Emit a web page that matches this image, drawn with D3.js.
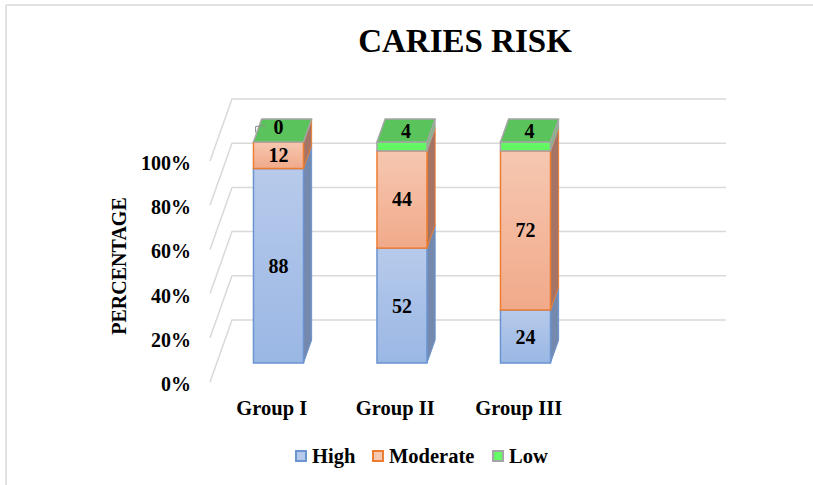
<!DOCTYPE html>
<html>
<head>
<meta charset="utf-8">
<script src="https://cdn.jsdelivr.net/npm/d3@7"></script>
<style>
  html, body { margin: 0; padding: 0; background: #fff; }
  svg { display: block; }
  text { font-family: "Liberation Serif", "Times New Roman", serif; font-weight: bold; fill: #000; }
</style>
</head>
<body>
<svg id="chart" width="813" height="485"></svg>
<script>
// ---- data ----
const categories = ["Group I", "Group II", "Group III"];
const seriesNames = ["High", "Moderate", "Low"];
const high = [88, 52, 24];
const moderate = [12, 44, 72];
const low = [0, 4, 4];
const yTicks = [0, 20, 40, 60, 80, 100];
const chartTitle = "CARIES RISK";
const yTitle = "PERCENTAGE";

// ---- styles ----
const seriesStyle = {
  High:     { top: "#b7caeb", bottom: "#9ab7e4", stroke: "#6b94d0", side: "#7489ad", topFace: "#a8bfe6" },
  Moderate: { top: "#f6c7b1", bottom: "#f1aa8a", stroke: "#ed7d31", side: "#a67464", topFace: "#f4b89c" },
  Low:      { top: "#66fa66", bottom: "#60f560", stroke: "#a5a5a5", side: "#86b386", topFace: "#5bc35b" }
};

const svg = d3.select("#chart");
const defs = svg.append("defs");
seriesNames.forEach(s => {
  const g = defs.append("linearGradient").attr("id", "g" + s)
    .attr("x1", 0).attr("y1", 0).attr("x2", 0).attr("y2", 1);
  g.append("stop").attr("offset", "0%").attr("stop-color", seriesStyle[s].top);
  g.append("stop").attr("offset", "100%").attr("stop-color", seriesStyle[s].bottom);
});

// frame
svg.append("line").attr("x1", 6).attr("y1", 5).attr("x2", 6).attr("y2", 485)
  .attr("stroke", "#d9d9d9").attr("stroke-width", 1.5);
svg.append("line").attr("x1", 6).attr("y1", 5).attr("x2", 813).attr("y2", 5)
  .attr("stroke", "#d9d9d9").attr("stroke-width", 1.5);

// ---- 3D geometry (oblique projection) ----
const wallLeft = 210, wallRight = 704;     // front-plane extents
const depthDx = 22, depthDy = 62;          // full depth offset
const z1 = 0.306, z2 = 0.677;              // bar front / back depth fractions

const y = d3.scaleLinear().domain([0, 100]).range([382, 161]);
const x = d3.scaleBand().domain(categories)
  .range([wallLeft, wallLeft + (wallRight - wallLeft) * 0.75])
  .paddingInner(0.595).paddingOuter(0.2975);

const px = (xv, z) => xv + z * depthDx;
const py = (yv, z) => yv - z * depthDy;

// gridlines: back wall + side wall
const grid = svg.append("g");
yTicks.forEach(v => {
  grid.append("path")
    .attr("d", `M${px(wallLeft, 0)},${py(y(v), 0)} L${px(wallLeft, 1)},${py(y(v), 1)} L${px(wallRight, 1)},${py(y(v), 1)}`)
    .attr("fill", "none").attr("stroke", "#d9d9d9").attr("stroke-width", 1.5);
});

// y tick labels
svg.append("g").selectAll("text").data(yTicks).join("text")
  .attr("x", 191).attr("y", d => y(d) + 2).attr("dy", "0.35em")
  .attr("text-anchor", "end").attr("font-size", 20)
  .text(d => d + "%");

// y title
svg.append("text")
  .attr("transform", `translate(126,266) rotate(-90)`)
  .attr("text-anchor", "middle").attr("font-size", 20)
  .text(yTitle);

// title
svg.append("text").attr("x", 465).attr("y", 52)
  .attr("text-anchor", "middle").attr("font-size", 33)
  .text(chartTitle);

// ---- bars ----
const table = categories.map((c, i) => ({ cat: c, High: high[i], Moderate: moderate[i], Low: low[i] }));
const stacked = d3.stack().keys(seriesNames)(table);

const barsG = svg.append("g");
table.forEach((row, i) => {
  const x0 = x(row.cat), x1 = x0 + x.bandwidth();
  const g = barsG.append("g");
  stacked.forEach(layer => {
    const s = layer.key;
    const [v0, v1] = layer[i];
    const st = seriesStyle[s];
    if (v1 - v0 > 0) {
      const yb = y(v0), yt = y(v1);
      g.append("path")
        .attr("d", `M${px(x1, z1)},${py(yt, z1)} L${px(x1, z2)},${py(yt, z2)} L${px(x1, z2)},${py(yb, z2)} L${px(x1, z1)},${py(yb, z1)} Z`)
        .attr("fill", st.side).attr("stroke", st.stroke).attr("stroke-width", 1).attr("stroke-linejoin", "round");
      g.append("rect")
        .attr("x", px(x0, z1)).attr("y", py(yt, z1))
        .attr("width", x1 - x0).attr("height", yb - yt)
        .attr("fill", `url(#g${s})`).attr("stroke", st.stroke).attr("stroke-width", 1.5);
    }
  });
  const topLayer = stacked[stacked.length - 1];
  const yt = y(topLayer[i][1]);
  const ts = seriesStyle[topLayer.key];
  g.append("path")
    .attr("d", `M${px(x0, z1)},${py(yt, z1)} L${px(x0, z2)},${py(yt, z2)} L${px(x1, z2)},${py(yt, z2)} L${px(x1, z1)},${py(yt, z1)} Z`)
    .attr("fill", ts.topFace).attr("stroke", ts.stroke).attr("stroke-width", 1.5).attr("stroke-linejoin", "round");
});

// ---- data labels ----
const labG = svg.append("g");
table.forEach((row, i) => {
  const cx = x(row.cat) + x.bandwidth() / 2;
  stacked.forEach((layer, li) => {
    const [v0, v1] = layer[i];
    const val = row[layer.key];
    const isTop = li === stacked.length - 1;
    let lx, ly;
    if (isTop) {
      const zm = (z1 + z2) / 2;
      lx = px(cx, zm); ly = py(y(v1), zm);
      if (val === 0) {
        lx -= 4; ly -= 4;
        labG.append("path")
          .attr("d", `M${lx - 13},${ly - 1} L${lx - 23},${ly} L${lx - 23},${ly + 6}`)
          .attr("fill", "none").attr("stroke", "#8c8c8c").attr("stroke-width", 1);
      }
    } else {
      lx = px(cx, z1); ly = py((y(v0) + y(v1)) / 2, z1);
    }
    labG.append("text").attr("x", lx).attr("y", ly).attr("dy", "0.35em")
      .attr("text-anchor", "middle").attr("font-size", 20).text(val);
  });
});

// x category labels
svg.append("g").selectAll("text").data(categories).join("text")
  .attr("x", d => x(d) + x.bandwidth() / 2).attr("y", 408).attr("dy", "0.35em")
  .attr("text-anchor", "middle").attr("font-size", 20.5)
  .text(d => d);

// legend
const legendX = [295, 372, 492];
const leg = svg.append("g");
seriesNames.forEach((s, i) => {
  const st = seriesStyle[s];
  leg.append("rect").attr("x", legendX[i] + 1).attr("y", 451).attr("width", 10).attr("height", 10)
    .attr("fill", st.top).attr("stroke", st.stroke).attr("stroke-width", 2);
  leg.append("text").attr("x", legendX[i] + 17).attr("y", 456).attr("dy", "0.35em")
    .attr("font-size", 20.5).text(s);
});
</script>
</body>
</html>
